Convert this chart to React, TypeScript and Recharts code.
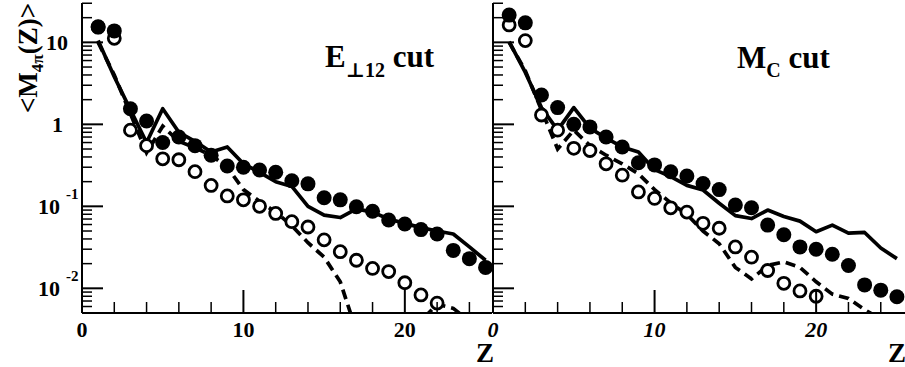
import React from 'react';
import { LineChart, Line, XAxis, YAxis } from 'recharts';

// ---- data ----
const Z = [1, 2, 3, 4, 5, 6, 7, 8, 9, 10, 11, 12, 13, 14, 15, 16, 17, 18, 19, 20, 21, 22, 23, 24, 25];

// Left panel (E_perp12 cut)
const leftFilled = [15.5, 13.8, 1.55, 1.1, 0.6, 0.7, 0.55, 0.42, 0.31, 0.3, 0.277, 0.26, 0.205, 0.188, 0.127, 0.12, 0.099, 0.087, 0.068, 0.061, 0.052, 0.046, 0.029, 0.023, 0.018];
const leftOpen = [15.3, 11.2, 0.85, 0.55, 0.38, 0.37, 0.265, 0.18, 0.134, 0.12, 0.1, 0.082, 0.065, 0.056, 0.039, 0.028, 0.022, 0.0175, 0.016, 0.0117, 0.0083, 0.0066];
const leftSolid = [10.5, 3.8, 1.5, 0.6, 1.55, 0.8, 0.62, 0.46, 0.53, 0.33, 0.26, 0.2, 0.175, 0.1, 0.078, 0.073, 0.093, 0.085, 0.07, 0.062, 0.055, 0.05, 0.046, 0.032, 0.022];
const leftDashed = [10, 4, 1.35, 0.45, 0.95, 0.62, 0.52, 0.42, 0.3, 0.16, 0.115, 0.085, 0.058, 0.036, 0.024, 0.012, 0.003, 0.002, 0.002, 0.003, 0.004, 0.0064, 0.0057, 0.004];

// Right panel (M_C cut)
const rightFilled = [21.5, 17.3, 2.28, 1.6, 1.0, 0.93, 0.7, 0.53, 0.34, 0.32, 0.264, 0.234, 0.19, 0.16, 0.104, 0.096, 0.059, 0.045, 0.032, 0.03, 0.026, 0.019, 0.011, 0.0095, 0.0079];
const rightOpen = [16.3, 10.5, 1.3, 0.85, 0.51, 0.48, 0.33, 0.24, 0.15, 0.125, 0.096, 0.085, 0.062, 0.054, 0.032, 0.024, 0.0165, 0.0115, 0.0093, 0.008];
const rightSolid = [10.2, 4.3, 1.6, 0.85, 1.6, 0.9, 0.68, 0.53, 0.46, 0.28, 0.23, 0.18, 0.158, 0.109, 0.077, 0.071, 0.09, 0.075, 0.066, 0.049, 0.059, 0.047, 0.048, 0.031, 0.023];
const rightDashed = [10, 4.5, 1.5, 0.5, 0.85, 0.55, 0.42, 0.33, 0.25, 0.16, 0.11, 0.08, 0.05, 0.035, 0.018, 0.013, 0.019, 0.021, 0.018, 0.012, 0.0085, 0.0075, 0.0055, 0.0042];

// ticks
const xTicks = [0, 2, 4, 6, 8, 10, 12, 14, 16, 18, 20, 22, 24];
const xMajorTicks = [0, 10, 20];
const yTicks = [
  0.005, 0.006, 0.007, 0.008, 0.009,
  0.01, 0.02, 0.03, 0.04, 0.05, 0.06, 0.07, 0.08, 0.09,
  0.1, 0.2, 0.3, 0.4, 0.5, 0.6, 0.7, 0.8, 0.9,
  1, 2, 3, 4, 5, 6, 7, 8, 9,
  10, 20, 30,
];
const yMajorTicks = [0.01, 0.1, 1, 10];

const FONT = '"Liberation Serif", "DejaVu Serif", serif';

const toPts = (vals: number[]) => vals.map((v, i) => ({ z: Z[i], v }));

const FilledDot = (p: any) =>
  p.cx == null || p.cy == null ? <g key={p.index} /> : (
    <circle key={p.index} cx={p.cx} cy={p.cy} r={7.5} fill="#000" stroke="none" />
  );
const OpenDot = (p: any) =>
  p.cx == null || p.cy == null ? <g key={p.index} /> : (
    <circle key={p.index} cx={p.cx} cy={p.cy} r={6} fill="#fff" stroke="#000" strokeWidth={2.8} />
  );

const YTick = (props: any) => {
  const { x, y, payload, showLabel } = props;
  const v = payload.value;
  const major = yMajorTicks.some((m) => Math.abs(m - v) < 1e-9);
  const len = major ? 21 : 10;
  let label: React.ReactNode = null;
  if (showLabel && major) {
    const e = Math.round(Math.log10(v));
    const common = { fontFamily: FONT, fontWeight: 'bold' as const, fill: '#000' };
    if (e === 1) {
      label = <text x={x - 14} y={y + 7.5} textAnchor="end" fontSize={22} {...common}>10</text>;
    } else if (e === 0) {
      label = <text x={x - 19} y={y + 7.5} textAnchor="end" fontSize={22} {...common}>1</text>;
    } else {
      label = (
        <g>
          <text x={x - 22} y={y + 7.5} textAnchor="end" fontSize={22} {...common}>10</text>
          <text x={x - 16} y={y - 7} textAnchor="start" fontSize={15} {...common}>{String(e)}</text>
        </g>
      );
    }
  }
  return (
    <g>
      <line x1={x} x2={x + len} y1={y} y2={y} stroke="#000" strokeWidth={major ? 2 : 1.5} />
      {label}
    </g>
  );
};

const XTick = (props: any) => {
  const { x, y, payload, italic } = props;
  const v = payload.value;
  const major = xMajorTicks.includes(v);
  const len = major ? 23 : 11;
  return (
    <g>
      <line x1={x} x2={x} y1={y} y2={y - len} stroke="#000" strokeWidth={major ? 2 : 1.5} />
      {major && (
        <text
          x={x}
          y={y + 24}
          textAnchor="middle"
          fontSize={22}
          fontFamily={FONT}
          fontWeight="bold"
          fontStyle={italic ? 'italic' : 'normal'}
          fill="#000"
        >
          {String(v)}
        </text>
      )}
    </g>
  );
};

type PanelProps = {
  width: number;
  yAxisWidth: number;
  marginRight: number;
  xMax: number;
  showYLabels: boolean;
  italicX: boolean;
  filled: number[];
  open: number[];
  solid: number[];
  dashed: number[];
};

const Panel = (p: PanelProps) => (
  <LineChart width={p.width} height={367} margin={{ top: 3, right: p.marginRight, bottom: 0, left: 0 }}>
    <XAxis
      dataKey="z"
      type="number"
      domain={[0, p.xMax]}
      ticks={xTicks}
      interval={0}
      allowDataOverflow
      height={54}
      tickSize={0}
      tickMargin={0}
      tickLine={false}
      axisLine={{ stroke: '#000', strokeWidth: 2 }}
      tick={(tp: any) => <XTick {...tp} italic={p.italicX} />}
    />
    <XAxis
      xAxisId="top"
      orientation="top"
      dataKey="z"
      type="number"
      domain={[0, p.xMax]}
      allowDataOverflow
      height={0}
      tick={false}
      tickLine={false}
      axisLine={{ stroke: '#000', strokeWidth: 1.5 }}
    />
    <YAxis
      type="number"
      scale="log"
      domain={[0.005, 30.2]}
      allowDataOverflow
      ticks={yTicks}
      interval={0}
      width={p.yAxisWidth}
      tickSize={0}
      tickMargin={0}
      tickLine={false}
      axisLine={{ stroke: '#000', strokeWidth: 2 }}
      tick={(tp: any) => <YTick {...tp} showLabel={p.showYLabels} />}
    />
    <Line
      data={toPts(p.open)}
      dataKey="v"
      stroke="none"
      dot={OpenDot}
      activeDot={false}
      isAnimationActive={false}
    />
    <Line
      data={toPts(p.filled)}
      dataKey="v"
      stroke="none"
      dot={FilledDot}
      activeDot={false}
      isAnimationActive={false}
    />
    <Line
      data={toPts(p.dashed)}
      dataKey="v"
      type="linear"
      stroke="#000"
      strokeWidth={3.7}
      strokeDasharray="10 6"
      dot={false}
      activeDot={false}
      isAnimationActive={false}
    />
    <Line
      data={toPts(p.solid)}
      dataKey="v"
      type="linear"
      stroke="#000"
      strokeWidth={3.7}
      strokeLinejoin="round"
      dot={false}
      activeDot={false}
      isAnimationActive={false}
    />
  </LineChart>
);

export default function App() {
  const bold = { fontFamily: FONT, fontWeight: 'bold' as const, fill: '#000' };
  return (
    <div style={{ position: 'absolute', left: 0, top: 0, width: 905, height: 367, background: '#fff', overflow: 'hidden' }}>
      <div style={{ position: 'absolute', left: 0, top: 0 }}>
        <Panel
          width={500}
          yAxisWidth={82}
          marginRight={8}
          xMax={25.4}
          showYLabels={true}
          italicX={false}
          filled={leftFilled}
          open={leftOpen}
          solid={leftSolid}
          dashed={leftDashed}
        />
      </div>
      <div style={{ position: 'absolute', left: 470, top: 0 }}>
        <Panel
          width={435}
          yAxisWidth={23}
          marginRight={0}
          xMax={25.5}
          showYLabels={false}
          italicX={true}
          filled={rightFilled}
          open={rightOpen}
          solid={rightSolid}
          dashed={rightDashed}
        />
      </div>
      <svg width={905} height={367} style={{ position: 'absolute', left: 0, top: 0, pointerEvents: 'none' }}>
        <text transform="translate(37,58) rotate(-90)" textAnchor="middle" fontSize={27} {...bold}>
          {'<M'}
          <tspan fontSize={17} dy={6}>4π</tspan>
          <tspan dy={-6}>{'(Z)>'}</tspan>
        </text>
        <text x={325} y={67} fontSize={31} {...bold}>
          E
          <tspan fontSize={20} dy={10}>⊥12</tspan>
          <tspan dy={-10}> cut</tspan>
        </text>
        <text x={737} y={68} fontSize={31} {...bold}>
          M
          <tspan fontSize={20} dy={9}>C</tspan>
          <tspan dy={-9}> cut</tspan>
        </text>
        <text x={485} y={362} textAnchor="middle" fontSize={27} {...bold}>Z</text>
        <text x={897} y={362} textAnchor="middle" fontSize={27} {...bold}>Z</text>
      </svg>
    </div>
  );
}
